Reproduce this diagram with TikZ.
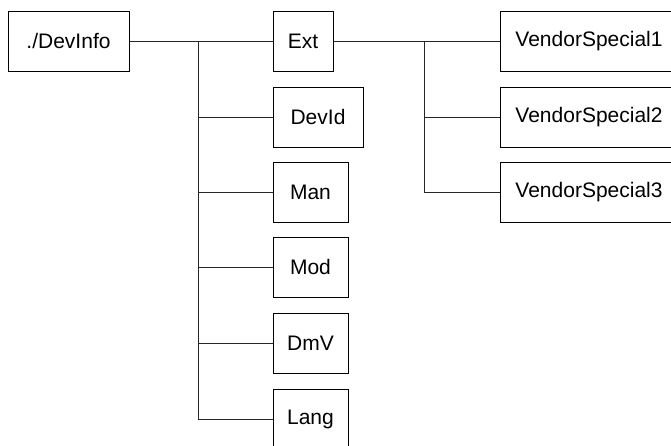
\documentclass[tikz,border=0pt]{standalone}
\usepackage{fontspec}
\setmainfont{Liberation Sans}
\begin{document}
\begin{tikzpicture}[x=1pt,y=-1pt,
  box/.style={draw=black, line width=1pt, inner sep=0pt, minimum height=60pt,
    font=\fontsize{21}{25}\selectfont},
  link/.style={draw=black!85, line width=1pt}]
\useasboundingbox (0,0) rectangle (671,445);
\clip (0,0) rectangle (671,445);
\node[box, minimum width=121pt] (devinfo) at (68.5,41) {./DevInfo};
\node[box, minimum width=60pt] (ext) at (303,41) {Ext};
\node[box, minimum width=90pt] (devid) at (318,117) {DevId};
\node[box, minimum width=75pt] (man) at (310.5,192) {Man};
\node[box, minimum width=75pt] (mod) at (310.5,267) {Mod};
\node[box, minimum width=75pt] (dmv) at (310.5,343) {DmV};
\node[box, minimum width=75pt] (lang) at (310.5,419) {Lang};
\node[box, minimum width=178pt] (vs1) at (589,41) {VendorSpecial1};
\node[box, minimum width=178pt] (vs2) at (589,117) {VendorSpecial2};
\node[box, minimum width=178pt] (vs3) at (589,192) {VendorSpecial3};
\coordinate (jtop) at (198,41);
\coordinate (jbot) at (198,419);
\coordinate (ktop) at (424,41);
\coordinate (kbot) at (424,192);
\draw[link] (devinfo.east) -- (ext.west);
\draw[link] (jtop) -- (jbot);
\draw[link] (devid.west) -- (devid.west -| jtop);
\draw[link] (man.west) -- (man.west -| jtop);
\draw[link] (mod.west) -- (mod.west -| jtop);
\draw[link] (dmv.west) -- (dmv.west -| jtop);
\draw[link] (lang.west) -- (jbot);
\draw[link] (ext.east) -- (vs1.west);
\draw[link] (ktop) -- (kbot);
\draw[link] (vs2.west) -- (vs2.west -| ktop);
\draw[link] (vs3.west) -- (kbot);
\end{tikzpicture}
\end{document}
